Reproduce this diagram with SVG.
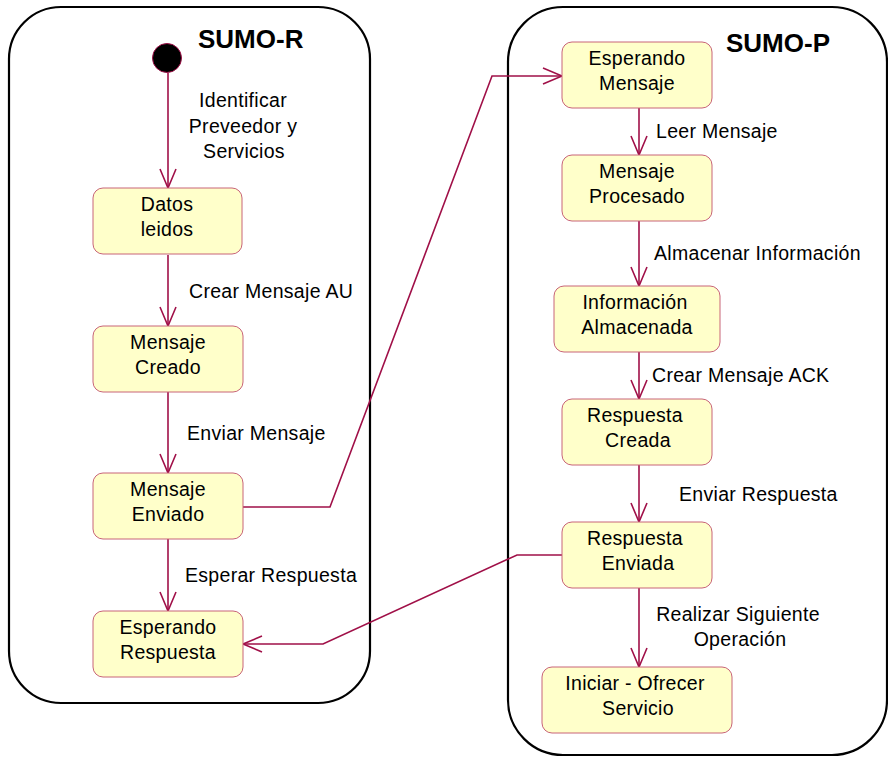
<svg xmlns="http://www.w3.org/2000/svg" width="888" height="757" viewBox="0 0 888 757">
  <defs>
    <style>
      .frame { fill: none; stroke: #000; stroke-width: 2.2; }
      .state { fill: #ffffca; stroke: #c86478; stroke-width: 1; }
      .title { font-family: "Liberation Sans", Arial, sans-serif; font-size: 26px; font-weight: bold; fill: #000; }
      .txt { font-family: "Liberation Sans", Arial, sans-serif; font-size: 19.5px; letter-spacing: 0.3px; fill: #000; }
      .mid { text-anchor: middle; }
      .edge { fill: none; stroke: #a01048; stroke-width: 1.6; marker-end: url(#arrow); }
    </style>
    <marker id="arrow" viewBox="-20 -9 22 18" refX="0" refY="0" markerUnits="userSpaceOnUse" markerWidth="22" markerHeight="18" orient="auto">
      <path d="M -19 -8 L 0 0 L -19 8" fill="none" stroke="#a01048" stroke-width="1.6"/>
    </marker>
  </defs>

  <!-- swimlane frames -->
  <g id="sumo-r">
    <rect class="frame" x="9" y="7" width="361" height="696" rx="52" ry="52"/>
    <text class="title" x="198" y="48">SUMO-R</text>
  </g>
  <g id="sumo-p">
    <rect class="frame" x="508" y="7" width="379" height="748" rx="55" ry="55"/>
    <text class="title" x="726" y="52">SUMO-P</text>
  </g>

  <!-- connectors -->
  <g id="connectors">
    <line class="edge" x1="168" y1="73" x2="168" y2="188"/>
    <line class="edge" x1="168" y1="255" x2="168" y2="326"/>
    <line class="edge" x1="168" y1="392" x2="168" y2="473"/>
    <line class="edge" x1="168" y1="539" x2="168" y2="611"/>
    <polyline class="edge" points="243,507 330,507 492,76 562,76"/>
    <line class="edge" x1="639" y1="108" x2="639" y2="155"/>
    <line class="edge" x1="639" y1="221" x2="639" y2="286"/>
    <line class="edge" x1="639" y1="352" x2="639" y2="399"/>
    <line class="edge" x1="639" y1="465" x2="639" y2="522"/>
    <line class="edge" x1="639" y1="588" x2="639" y2="667"/>
    <polyline class="edge" points="562,555 517,555 323,644 243,644"/>

    <text class="txt mid" x="243" y="107">Identificar</text>
    <text class="txt mid" x="243" y="133">Preveedor y</text>
    <text class="txt mid" x="244" y="158">Servicios</text>
    <text class="txt" x="189" y="298">Crear Mensaje AU</text>
    <text class="txt" x="187" y="440">Enviar Mensaje</text>
    <text class="txt" x="185" y="582">Esperar Respuesta</text>
    <text class="txt" x="656" y="138">Leer Mensaje</text>
    <text class="txt" x="654" y="260">Almacenar Información</text>
    <text class="txt" x="652" y="382">Crear Mensaje ACK</text>
    <text class="txt" x="679" y="501">Enviar Respuesta</text>
    <text class="txt mid" x="738" y="621">Realizar Siguiente</text>
    <text class="txt mid" x="740" y="646">Operación</text>
  </g>

  <!-- states of SUMO-R -->
  <g id="initial">
    <circle cx="167" cy="58" r="14.5" fill="#000" stroke="#a01048" stroke-width="1"/>
  </g>
  <g id="datos-leidos">
    <rect class="state" x="93" y="188" width="149" height="66" rx="10"/>
    <text class="txt mid" x="167" y="211">Datos</text>
    <text class="txt mid" x="167" y="236">leidos</text>
  </g>
  <g id="mensaje-creado">
    <rect class="state" x="93" y="326" width="150" height="66" rx="10"/>
    <text class="txt mid" x="168" y="349">Mensaje</text>
    <text class="txt mid" x="168" y="374">Creado</text>
  </g>
  <g id="mensaje-enviado">
    <rect class="state" x="93" y="473" width="150" height="66" rx="10"/>
    <text class="txt mid" x="168" y="496">Mensaje</text>
    <text class="txt mid" x="168" y="521">Enviado</text>
  </g>
  <g id="esperando-respuesta">
    <rect class="state" x="93" y="611" width="150" height="66" rx="10"/>
    <text class="txt mid" x="168" y="634">Esperando</text>
    <text class="txt mid" x="168" y="659">Respuesta</text>
  </g>

  <!-- states of SUMO-P -->
  <g id="esperando-mensaje">
    <rect class="state" x="562" y="42" width="150" height="66" rx="10"/>
    <text class="txt mid" x="637" y="65">Esperando</text>
    <text class="txt mid" x="637" y="90">Mensaje</text>
  </g>
  <g id="mensaje-procesado">
    <rect class="state" x="562" y="155" width="150" height="66" rx="10"/>
    <text class="txt mid" x="637" y="178">Mensaje</text>
    <text class="txt mid" x="637" y="203">Procesado</text>
  </g>
  <g id="informacion-almacenada">
    <rect class="state" x="554" y="286" width="166" height="66" rx="10"/>
    <text class="txt mid" x="635" y="309">Información</text>
    <text class="txt mid" x="637" y="334">Almacenada</text>
  </g>
  <g id="respuesta-creada">
    <rect class="state" x="562" y="399" width="150" height="66" rx="10"/>
    <text class="txt mid" x="635" y="422">Respuesta</text>
    <text class="txt mid" x="638" y="447">Creada</text>
  </g>
  <g id="respuesta-enviada">
    <rect class="state" x="562" y="522" width="150" height="66" rx="10"/>
    <text class="txt mid" x="635" y="545">Respuesta</text>
    <text class="txt mid" x="638" y="570">Enviada</text>
  </g>
  <g id="iniciar-ofrecer-servicio">
    <rect class="state" x="542" y="667" width="190" height="66" rx="10"/>
    <text class="txt mid" x="635" y="690">Iniciar - Ofrecer</text>
    <text class="txt mid" x="638" y="715">Servicio</text>
  </g>
</svg>
